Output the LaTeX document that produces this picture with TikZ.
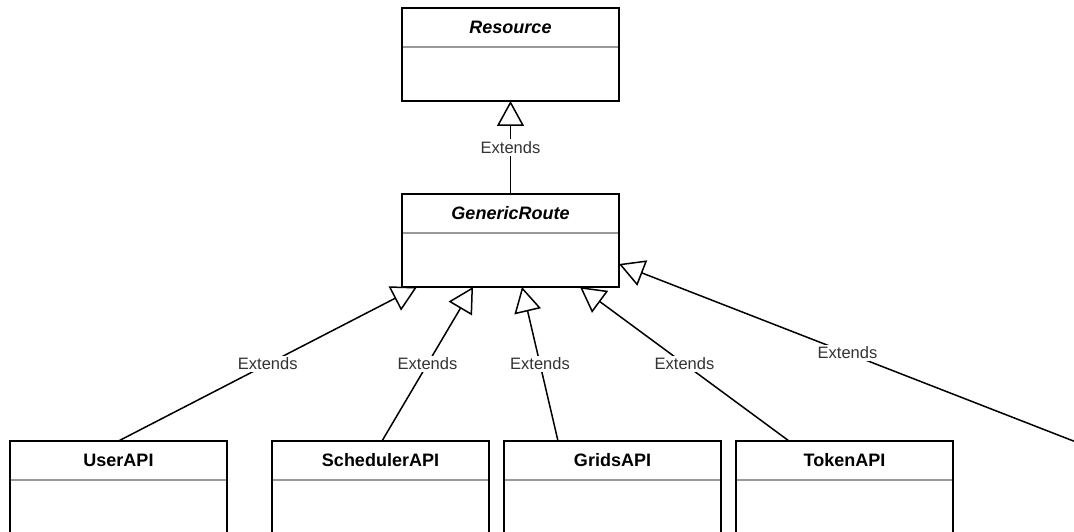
\documentclass[tikz,border=0pt]{standalone}
\usepackage{fontspec}
\setmainfont{Liberation Sans}
\usetikzlibrary{arrows.meta,calc}

% one UML class box: name, x, y (top left), title, title style
\newcommand\drawclass[5]{%
  \node[classbox] (#1) at (#2,#3) {};
  \draw[sepline] ($(#1.north west)+(0,39)$) -- ($(#1.north east)+(0,39)$);
  \node[#5] (#1-title) at ($(#1.north)+(0,19.5)$) {#4};
}

\begin{document}
\begin{tikzpicture}[x=1pt,y=-1pt,
  classbox/.style={draw=black, line width=1.8pt, minimum width=217pt,
    minimum height=93pt, anchor=north west, inner sep=0pt, outer sep=0pt},
  sepline/.style={draw=black!40, line width=1.8pt, shorten <=0.9pt, shorten >=0.9pt},
  abstracttitle/.style={font=\fontsize{18}{21}\selectfont\bfseries\itshape, inner sep=0pt},
  concretetitle/.style={font=\fontsize{18}{21}\selectfont\bfseries, inner sep=0pt},
  ext/.style={draw=black, line width=1.5pt,
    -{Triangle[open, length=25pt, width=27pt, line width=1.5pt]}},
  lbl/.style={midway, fill=white, inner sep=2pt, text=black!80,
    font=\fontsize{16.5}{19}\selectfont}]
\useasboundingbox (0,0) rectangle (1074,532);
\clip (0,0) rectangle (1074,532);

% classes
\drawclass{res}{402}{8}{Resource}{abstracttitle}
\drawclass{gr}{402}{194}{GenericRoute}{abstracttitle}
\drawclass{user}{10}{441}{UserAPI}{concretetitle}
\drawclass{sched}{272}{441}{SchedulerAPI}{concretetitle}
\drawclass{grids}{504}{441}{GridsAPI}{concretetitle}
\drawclass{token}{736}{441}{TokenAPI}{concretetitle}
\coordinate (more) at (1076,442);

% inheritance
\draw[ext] (gr.north) -- node[lbl] {Extends} (res.south);
\draw[ext] (user.north) -- node[lbl] {Extends} ($(gr.south west)+(15,0)$);
\draw[ext] ($(sched.north west)+(110,0)$) -- node[lbl] {Extends} ($(gr.south west)+(71,0)$);
\draw[ext] ($(grids.north west)+(54,0)$) -- node[lbl] {Extends} ($(gr.south west)+(120,0)$);
\draw[ext] ($(token.north west)+(53,0)$) -- node[lbl] {Extends} ($(gr.south west)+(178,0)$);
\draw[ext] (more) -- node[lbl] {Extends} ($(gr.north east)+(0,70)$);
\end{tikzpicture}
\end{document}
